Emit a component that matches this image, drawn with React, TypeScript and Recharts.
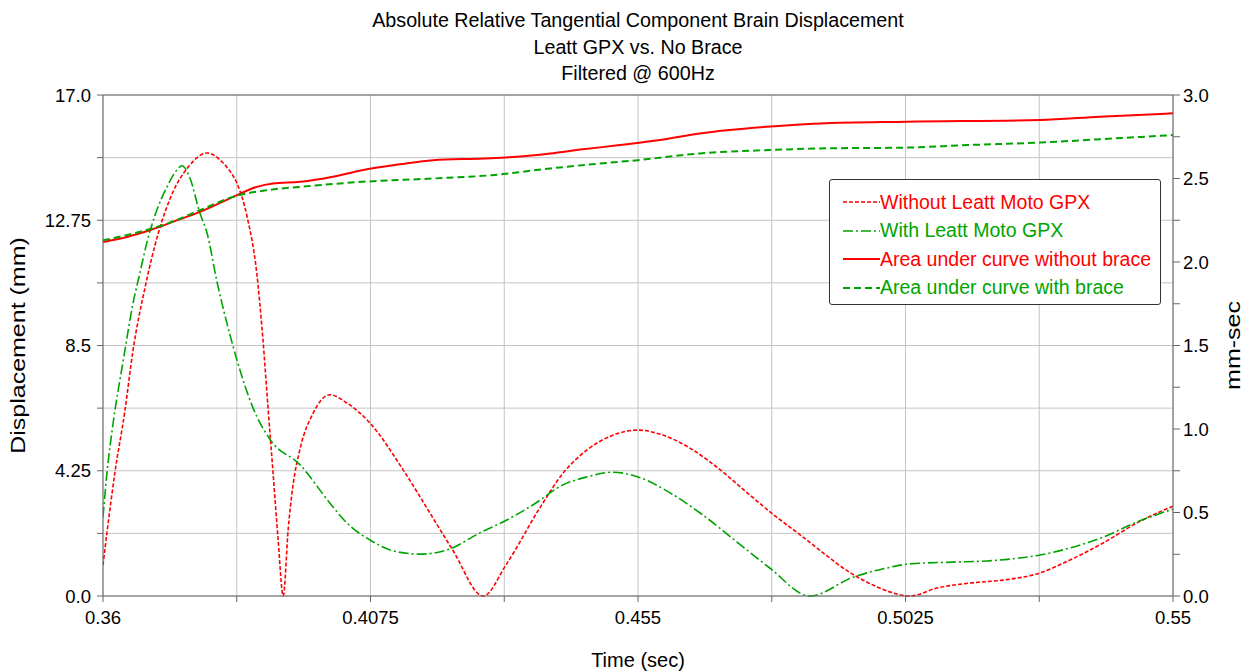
import { CartesianGrid, Legend, Line, LineChart, ReferenceLine, XAxis, YAxis } from "recharts";

const noBraceTime = [
  0.36, 0.3607, 0.3621, 0.3639, 0.3653, 0.3675, 0.3698, 0.3724, 0.3751, 0.3785,
  0.3813, 0.3826, 0.3838, 0.3856, 0.3873, 0.3884, 0.3893, 0.3902, 0.3911, 0.392,
  0.3929, 0.3937, 0.395, 0.3973, 0.4003, 0.4033, 0.4074, 0.4133, 0.4181, 0.4221,
  0.4275, 0.4317, 0.4376, 0.4417, 0.4459, 0.4506, 0.455, 0.4594, 0.4648, 0.4696,
  0.4744, 0.4788, 0.4843, 0.4873, 0.4926, 0.4962, 0.4997, 0.5033, 0.5081, 0.514,
  0.5198, 0.5258, 0.5317, 0.5376, 0.5436, 0.55,
];
const noBraceMm = [
  1.05, 2.14, 4.17, 6.3, 8.3, 10.5, 12.3, 13.7, 14.55, 15.03,
  14.7, 14.4, 14.0, 12.86, 10.96, 8.7, 6.4, 4.17, 1.9, 0,
  2.3, 3.7, 5.0, 6.2, 6.83, 6.55, 5.87, 4.28, 2.8, 1.56,
  0, 1.1, 3.0, 4.17, 4.95, 5.46, 5.63, 5.46, 4.95, 4.28,
  3.5, 2.8, 2.0, 1.55, 0.8, 0.42, 0.14, 0, 0.27, 0.44,
  0.54, 0.75, 1.22, 1.8, 2.48, 3.05,
];

const braceTime = [
  0.36, 0.3607, 0.3618, 0.3636, 0.3653, 0.3666, 0.3678, 0.3692, 0.3714, 0.3731,
  0.374, 0.3754, 0.3772, 0.3785, 0.3802, 0.382, 0.3838, 0.3866, 0.3897, 0.395,
  0.4003, 0.4033, 0.4074, 0.4122, 0.4163, 0.4211, 0.4269, 0.4317, 0.4376, 0.4406,
  0.4459, 0.4506, 0.455, 0.4607, 0.4665, 0.4726, 0.4784, 0.4855, 0.4932, 0.4992,
  0.5033, 0.5109, 0.517, 0.5228, 0.5264, 0.5317, 0.5376, 0.5436, 0.55,
];
const braceMm = [
  2.68, 4.17, 5.87, 8.0, 9.9, 11.0, 12.0, 12.9, 13.9, 14.45,
  14.6, 14.2, 13.0, 12.3, 10.7, 9.26, 8.0, 6.4, 5.3, 4.45,
  3.15, 2.48, 1.9, 1.5, 1.42, 1.56, 2.14, 2.58, 3.25, 3.66,
  4.04, 4.2, 4.04, 3.5, 2.75, 1.83, 0.95, 0, 0.64, 0.95,
  1.09, 1.15, 1.19, 1.29, 1.39, 1.63, 2.0, 2.51, 2.95,
];

const areaNoBraceTime = [
  0.36, 0.3643, 0.3683, 0.3724, 0.3772, 0.3831, 0.3873, 0.3902, 0.395, 0.4008,
  0.406, 0.4127, 0.4186, 0.4275, 0.4335, 0.4394, 0.4452, 0.4518, 0.4589, 0.466,
  0.4779, 0.4873, 0.5028, 0.5264, 0.537, 0.55,
];
const areaNoBrace = [
  2.12, 2.15, 2.19, 2.24, 2.3, 2.39, 2.45, 2.47, 2.48, 2.51,
  2.55, 2.585, 2.61, 2.62, 2.63, 2.65, 2.675, 2.7, 2.73, 2.77,
  2.81, 2.83, 2.84, 2.85, 2.87, 2.89,
];

const areaBraceTime = [
  0.36, 0.3653, 0.3714, 0.3772, 0.3831, 0.3891, 0.395, 0.406, 0.4186, 0.4291,
  0.4394, 0.4483, 0.455, 0.466, 0.4779, 0.4873, 0.5028, 0.5134, 0.5264, 0.537, 0.55,
];
const areaBrace = [
  2.13, 2.17, 2.23, 2.31, 2.39, 2.43, 2.45, 2.48, 2.5, 2.52,
  2.56, 2.59, 2.61, 2.65, 2.67, 2.68, 2.685, 2.7, 2.715, 2.735, 2.76,
];

const xTicks = [0.36, 0.38375, 0.4075, 0.43125, 0.455, 0.47875, 0.5025, 0.52625, 0.55];
const xTickLabels = ["0.36", "", "0.4075", "", "0.455", "", "0.5025", "", "0.55"];
const leftTicks = [0, 2.125, 4.25, 6.375, 8.5, 10.625, 12.75, 14.875, 17];
const leftTickLabels = ["0.0", "", "4.25", "", "8.5", "", "12.75", "", "17.0"];
const rightTicks = [0, 0.25, 0.5, 0.75, 1, 1.25, 1.5, 1.75, 2, 2.25, 2.5, 2.75, 3];
const rightTickLabels = ["0.0", "", "0.5", "", "1.0", "", "1.5", "", "2.0", "", "2.5", "", "3.0"];

const titleLines = [
  "Absolute Relative Tangential Component Brain Displacement",
  "Leatt GPX vs. No Brace",
  "Filtered @ 600Hz",
];

const RED = "#ff0000";
const GREEN = "#00a400";
const FONT = '"Liberation Sans", Arial, sans-serif';

const series = [
  { name: "Without Leatt Moto GPX", color: RED, dash: "4 2", width: 1.6 },
  { name: "With Leatt Moto GPX", color: GREEN, dash: "10 3 2 3", width: 1.6 },
  { name: "Area under curve without brace", color: RED, dash: undefined, width: 2 },
  { name: "Area under curve with brace", color: GREEN, dash: "7 4", width: 2 },
];

const toRows = (t: number[], v: number[]) => t.map((x, i) => ({ t: x, v: v[i] }));

// vertical axis titles in the original are stretched along their length
function verticalTitle(text: string, side: "left" | "right") {
  return (props: any) => {
    const vb = props.viewBox || {};
    const cx = side === "left" ? (vb.x ?? 0) + 18 : (vb.x ?? 1173) + (vb.width ?? 82) - 22;
    const cy = (vb.y ?? 95) + (vb.height ?? 501) / 2;
    return (
      <text
        x={0}
        y={0}
        transform={`translate(${cx},${cy}) rotate(-90) scale(1.25,1)`}
        textAnchor="middle"
        dominantBaseline="central"
        fill="#000"
        fontSize={20}
        fontFamily={FONT}
      >
        {text}
      </text>
    );
  };
}

function LegendBox() {
  return (
    <div
      style={{
        border: "1px solid #333",
        borderRadius: 3,
        background: "#fff",
        padding: "8px 0 0 13px",
        boxSizing: "border-box",
        width: 332,
        height: 126,
        fontFamily: FONT,
        fontSize: 19.5,
      }}
    >
      {series.map((s) => (
        <div key={s.name} style={{ display: "flex", alignItems: "center", height: 28.5 }}>
          <svg width={37} height={10}>
            <line x1={0} y1={5} x2={37} y2={5} stroke={s.color} strokeWidth={s.width} strokeDasharray={s.dash} />
          </svg>
          <span style={{ color: s.color, whiteSpace: "nowrap" }}>{s.name}</span>
        </div>
      ))}
    </div>
  );
}

export default function App() {
  const tickStyle = { fill: "#000", fontSize: 18.5, fontFamily: FONT };
  return (
    <div style={{ position: "absolute", left: 0, top: 0, width: 1255, height: 672, background: "#fff" }}>
      <div
        style={{
          position: "absolute",
          left: 288,
          width: 700,
          top: 7,
          textAlign: "center",
          fontFamily: FONT,
          fontSize: 19.7,
          lineHeight: "26.5px",
          color: "#000",
        }}
      >
        {titleLines.map((l) => (
          <div key={l}>{l}</div>
        ))}
      </div>
      <LineChart width={1255} height={672} margin={{ top: 95, right: 0, bottom: 0, left: 0 }}>
        <CartesianGrid stroke="#c4c4c4" yAxisId="left" />
        <XAxis
          type="number"
          dataKey="t"
          domain={[0.36, 0.55]}
          ticks={xTicks}
          allowDataOverflow
          interval={0}
          height={76}
          stroke="#666"
          tickSize={6}
          tickMargin={9}
          tick={tickStyle}
          tickFormatter={(_v: number, i: number) => xTickLabels[i]}
          label={{ value: "Time (sec)", position: "insideBottom", offset: 5, style: { fill: "#000", fontSize: 20, fontFamily: FONT } }}
        />
        <YAxis
          yAxisId="left"
          domain={[0, 17]}
          ticks={leftTicks}
          interval={0}
          width={103}
          stroke="#666"
          tickSize={6}
          tickMargin={6}
          tick={tickStyle}
          tickFormatter={(_v: number, i: number) => leftTickLabels[i]}
          label={verticalTitle("Displacement (mm)", "left")}
        />
        <YAxis
          yAxisId="right"
          orientation="right"
          domain={[0, 3]}
          ticks={rightTicks}
          interval={0}
          width={82}
          stroke="#666"
          tickSize={7}
          tickMargin={3}
          tick={tickStyle}
          tickFormatter={(_v: number, i: number) => rightTickLabels[i]}
          label={verticalTitle("mm-sec", "right")}
        />
        <ReferenceLine yAxisId="left" y={17} stroke="#666" />
        <Line
          yAxisId="left"
          data={toRows(noBraceTime, noBraceMm)}
          dataKey="v"
          name={series[0].name}
          type="monotone"
          stroke={RED}
          strokeWidth={series[0].width}
          strokeDasharray={series[0].dash}
          dot={false}
          isAnimationActive={false}
        />
        <Line
          yAxisId="left"
          data={toRows(braceTime, braceMm)}
          dataKey="v"
          name={series[1].name}
          type="monotone"
          stroke={GREEN}
          strokeWidth={series[1].width}
          strokeDasharray={series[1].dash}
          dot={false}
          isAnimationActive={false}
        />
        <Line
          yAxisId="right"
          data={toRows(areaNoBraceTime, areaNoBrace)}
          dataKey="v"
          name={series[2].name}
          type="monotone"
          stroke={RED}
          strokeWidth={series[2].width}
          dot={false}
          isAnimationActive={false}
        />
        <Line
          yAxisId="right"
          data={toRows(areaBraceTime, areaBrace)}
          dataKey="v"
          name={series[3].name}
          type="monotone"
          stroke={GREEN}
          strokeWidth={series[3].width}
          strokeDasharray={series[3].dash}
          dot={false}
          isAnimationActive={false}
        />
        <Legend
          layout="vertical"
          align="center"
          verticalAlign="middle"
          wrapperStyle={{ left: 829, top: 179, width: 332, height: 126 }}
          content={() => <LegendBox />}
        />
      </LineChart>
    </div>
  );
}
